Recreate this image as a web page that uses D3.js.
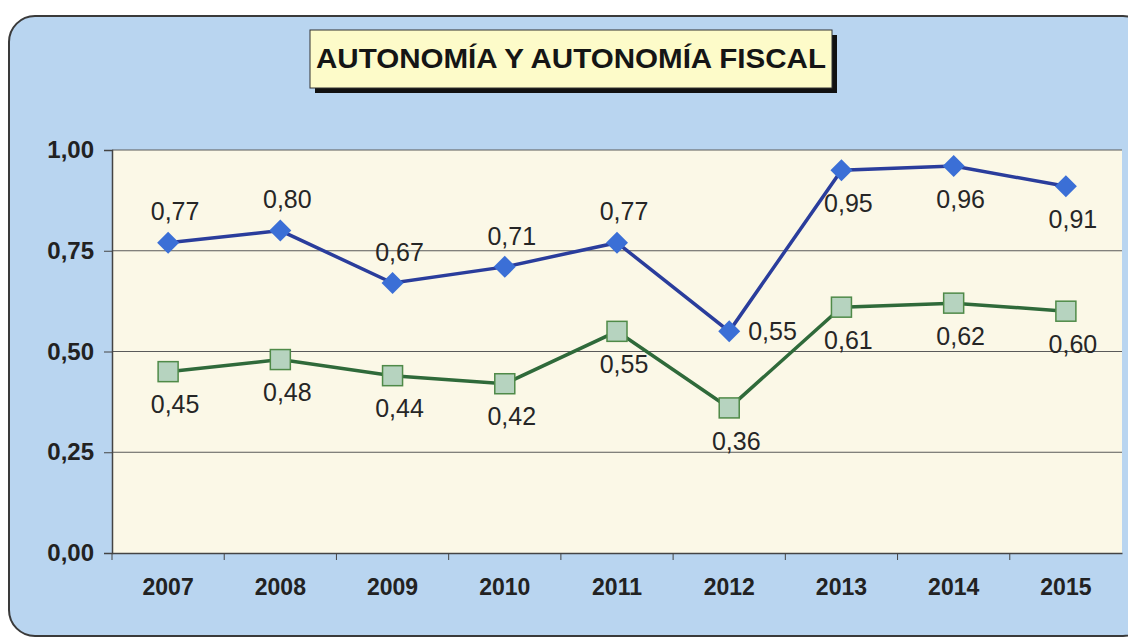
<!DOCTYPE html>
<html>
<head>
<meta charset="utf-8">
<script src="https://cdn.jsdelivr.net/npm/d3@7"></script>
<style>
  body { margin: 0; background: #ffffff; }
  svg { display: block; }
</style>
</head>
<body>
<div id="chart"></div>
<script>
// chart data
var years = ["2007", "2008", "2009", "2010", "2011", "2012", "2013", "2014", "2015"];
var autonomia = [0.77, 0.80, 0.67, 0.71, 0.77, 0.55, 0.95, 0.96, 0.91];
var autonomiaFiscal = [0.45, 0.48, 0.44, 0.42, 0.55, 0.36, 0.61, 0.62, 0.60];
var yTicks = [0, 0.25, 0.5, 0.75, 1];
var chartTitle = "AUTONOMÍA Y AUTONOMÍA FISCAL";

// where each value label sits relative to its marker
var autonomiaPlace = ["above", "above", "above", "above", "above", "right", "below", "below", "below"];
var fiscalPlace = ["below", "below", "below", "below", "below", "below", "below", "below", "below"];

var width = 1128, height = 641;
var margin = {top: 150, right: 6, bottom: 88, left: 112};
var font = "Liberation Sans, Arial, sans-serif";

var svg = d3.select("#chart").append("svg")
	.attr("width", width)
	.attr("height", height);

// outer rounded frame
svg.append("rect")
	.attr("x", 9)
	.attr("y", 16)
	.attr("width", 1140)
	.attr("height", 620)
	.attr("rx", 26)
	.attr("fill", "#b9d5f0")
	.attr("stroke", "#3a3a3a")
	.attr("stroke-width", 2);

// scales
var x = d3.scaleBand()
	.domain(years)
	.range([margin.left, width - margin.right]);

var y = d3.scaleLinear()
	.domain([0, 1])
	.range([height - margin.bottom, margin.top]);

// plot area
svg.append("rect")
	.attr("x", margin.left)
	.attr("y", y(1))
	.attr("width", width - margin.right - margin.left)
	.attr("height", y(0) - y(1))
	.attr("fill", "#fbf8e7");

// horizontal grid lines
svg.append("g")
	.selectAll("line")
	.data(yTicks.slice(1))
	.enter()
	.append("line")
	.attr("x1", margin.left)
	.attr("x2", width - margin.right)
	.attr("y1", function(d){ return y(d); })
	.attr("y2", function(d){ return y(d); })
	.attr("stroke", "#5a5a5a")
	.attr("stroke-width", 1);

// y axis
var yAxis = svg.append("g")
	.attr("transform", "translate(" + margin.left + ",0)")
	.call(d3.axisLeft(y).tickValues(yTicks).tickSize(8).tickPadding(10)
		.tickFormat(function(d){ return d3.format(".2f")(d).replace(".", ","); }));
yAxis.select(".domain").attr("stroke", "#444").attr("stroke-width", 1.5);
yAxis.selectAll(".tick line").attr("stroke", "#444");
yAxis.selectAll("text")
	.attr("fill", "#222")
	.style("font-family", font)
	.style("font-size", "24px")
	.style("font-weight", "bold");

// x axis, ticks at the band borders
var xAxis = svg.append("g")
	.attr("transform", "translate(0," + y(0) + ")")
	.call(d3.axisBottom(x).tickSize(0).tickPadding(26));
xAxis.select(".domain").attr("stroke", "#444").attr("stroke-width", 1.5);
xAxis.selectAll("text")
	.attr("fill", "#222")
	.style("font-family", font)
	.style("font-size", "23px")
	.style("font-weight", "bold");
xAxis.selectAll(".border")
	.data(years)
	.enter()
	.append("line")
	.attr("class", "border")
	.attr("x1", function(d){ return x(d); })
	.attr("x2", function(d){ return x(d); })
	.attr("y1", 0)
	.attr("y2", 7)
	.attr("stroke", "#444");

function cx(i){ return x(years[i]) + x.bandwidth() / 2; }

var line = d3.line()
	.x(function(d, i){ return cx(i); })
	.y(function(d){ return y(d); });

// autonomia fiscal line (green squares)
svg.append("path")
	.datum(autonomiaFiscal)
	.attr("d", line)
	.attr("fill", "none")
	.attr("stroke", "#2f6a3a")
	.attr("stroke-width", 3.5);

svg.selectAll(".sq")
	.data(autonomiaFiscal)
	.enter()
	.append("rect")
	.attr("class", "sq")
	.attr("x", function(d, i){ return cx(i) - 10; })
	.attr("y", function(d){ return y(d) - 10; })
	.attr("width", 20)
	.attr("height", 20)
	.attr("fill", "#b6d3bf")
	.attr("stroke", "#4f8a48")
	.attr("stroke-width", 1.5);

// autonomia line (blue diamonds)
svg.append("path")
	.datum(autonomia)
	.attr("d", line)
	.attr("fill", "none")
	.attr("stroke", "#2a3d9c")
	.attr("stroke-width", 3.5);

svg.selectAll(".dia")
	.data(autonomia)
	.enter()
	.append("path")
	.attr("class", "dia")
	.attr("d", "M0,-11L11,0L0,11L-11,0Z")
	.attr("transform", function(d, i){ return "translate(" + cx(i) + "," + y(d) + ")"; })
	.attr("fill", "#3b6fd6");

// value labels
function addLabels(values, places){
	svg.append("g")
		.selectAll("text")
		.data(values)
		.enter()
		.append("text")
		.attr("x", function(d, i){
			if (places[i] == "right") return cx(i) + 19;
			return cx(i) + 7;
		})
		.attr("y", function(d, i){
			if (places[i] == "above") return y(d) - 31;
			if (places[i] == "below") return y(d) + 33;
			return y(d);
		})
		.attr("dy", "0.35em")
		.attr("text-anchor", function(d, i){ return places[i] == "right" ? "start" : "middle"; })
		.attr("fill", "#262626")
		.style("font-family", font)
		.style("font-size", "25px")
		.text(function(d){ return d3.format(".2f")(d).replace(".", ","); });
}
addLabels(autonomia, autonomiaPlace);
addLabels(autonomiaFiscal, fiscalPlace);

// title box with shadow
svg.append("rect")
	.attr("x", 315)
	.attr("y", 35)
	.attr("width", 522)
	.attr("height", 58)
	.attr("fill", "#111");
svg.append("rect")
	.attr("x", 310)
	.attr("y", 30)
	.attr("width", 522)
	.attr("height", 58)
	.attr("fill", "#fdfbc9")
	.attr("stroke", "#333")
	.attr("stroke-width", 1);
svg.append("text")
	.attr("x", 571)
	.attr("y", 68)
	.attr("text-anchor", "middle")
	.attr("textLength", 510)
	.attr("lengthAdjust", "spacingAndGlyphs")
	.attr("fill", "#151515")
	.style("font-family", font)
	.style("font-size", "27px")
	.style("font-weight", "bold")
	.text(chartTitle);
</script>
</body>
</html>
